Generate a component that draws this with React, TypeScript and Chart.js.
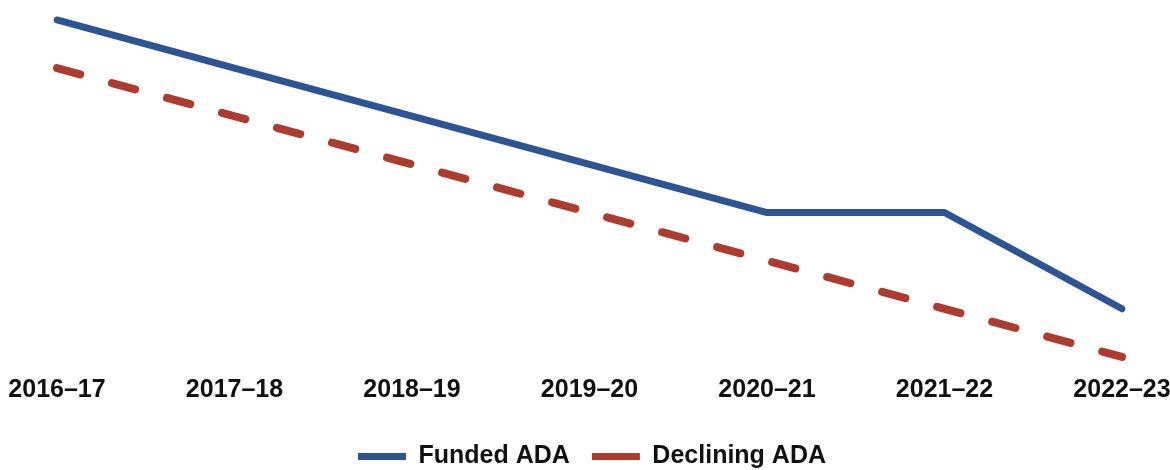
import React, { useEffect, useRef } from "react";
import { Chart, registerables } from "chart.js";

Chart.register(...registerables);

const categories = ["2016–17", "2017–18", "2018–19", "2019–20", "2020–21", "2021–22", "2022–23"];
const fundedADA = [100, 95, 90, 85, 80, 80, 70];
const decliningADA = [95, 90, 85, 80, 75, 70, 65];

const BLUE = "#2d5595";
const RED = "#ad3b2e";

export default function App() {
  const ref = useRef<HTMLCanvasElement | null>(null);
  useEffect(() => {
    if (!ref.current) return;
    const chart = new Chart(ref.current, {
      type: "line",
      data: {
        labels: categories,
        datasets: [
          {
            label: "Funded ADA",
            data: fundedADA,
            borderColor: BLUE,
            backgroundColor: BLUE,
            borderWidth: 7,
            borderCapStyle: "round",
            borderJoinStyle: "round",
            pointRadius: 0,
            tension: 0,
          },
          {
            label: "Declining ADA",
            data: decliningADA,
            borderColor: RED,
            backgroundColor: RED,
            borderWidth: 8,
            borderDash: [24, 33],
            borderCapStyle: "round",
            borderJoinStyle: "round",
            pointRadius: 0,
            tension: 0,
          },
        ],
      },
      options: {
        responsive: false,
        animation: false,
        layout: { padding: { top: 10, left: 14, right: 0, bottom: -9 } },
        scales: {
          x: {
            offset: false,
            grid: { display: false, drawTicks: false },
            border: { display: false },
            afterFit: (scale: any) => {
              scale.paddingLeft = 57;
              scale.paddingRight = 48;
              scale.height = 58;
            },
            ticks: {
              color: "#111",
              padding: 11,
              maxRotation: 0,
              autoSkip: false,
              font: { family: "'Liberation Sans', Arial, sans-serif", size: 25, weight: "bold" },
            },
          },
          y: {
            display: false,
            min: 64.265,
            max: 101.035,
          },
        },
        plugins: {
          tooltip: { enabled: false },
          legend: {
            position: "bottom",
            labels: {
              color: "#111",
              boxWidth: 48,
              boxHeight: 7,
              padding: 22,
              font: { family: "'Liberation Sans', Arial, sans-serif", size: 25, weight: "bold" },
              generateLabels: (c: any) =>
                c.data.datasets.map((d: any, i: number) => ({
                  text: d.label,
                  fillStyle: d.borderColor,
                  strokeStyle: d.borderColor,
                  lineWidth: 0,
                  fontColor: "#111",
                  hidden: false,
                  datasetIndex: i,
                })),
            },
          },
        },
      },
    });
    return () => chart.destroy();
  }, []);
  return (
    <div style={{ position: "fixed", left: 0, top: 0, width: 1170, height: 470, background: "#fff" }}>
      <canvas ref={ref} width={1170} height={470} style={{ display: "block" }} />
    </div>
  );
}
